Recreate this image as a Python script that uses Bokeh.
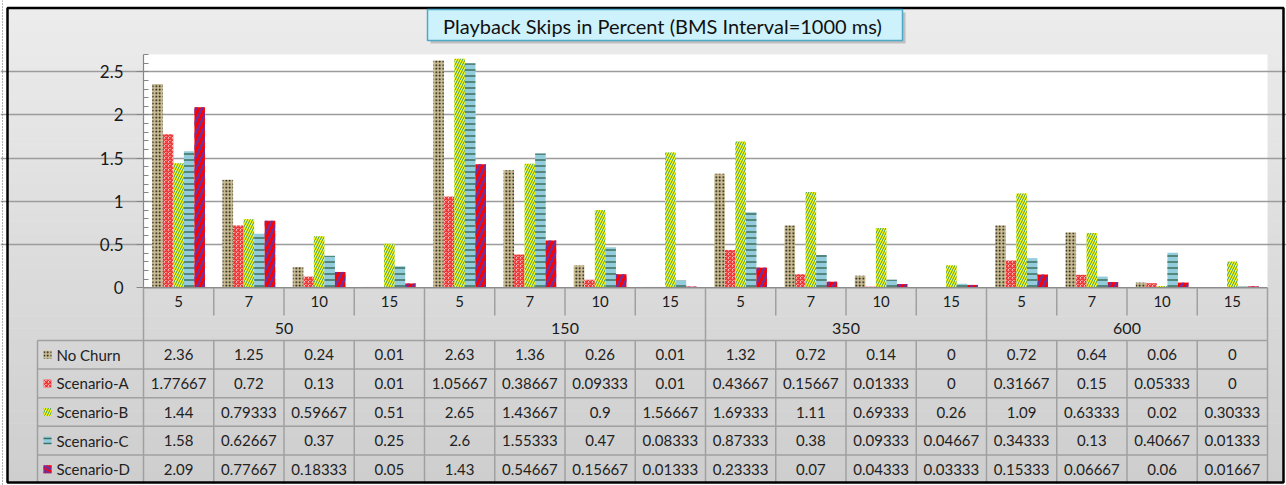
from bokeh.plotting import figure
from bokeh.models import Range1d, LinearAxis, FixedTicker, Grid, NumeralTickFormatter
from bokeh.core.properties import value
from bokeh.embed import file_html
from bokeh.resources import INLINE

# ---------------- data ----------------
title_text = "Playback Skips in Percent  (BMS Interval=1000 ms)"
groups = ["50", "150", "350", "600"]
subcats = ["5", "7", "10", "15"]
series = ["No Churn", "Scenario-A", "Scenario-B", "Scenario-C", "Scenario-D"]
no_churn = [2.36, 1.25, 0.24, 0.01, 2.63, 1.36, 0.26, 0.01, 1.32, 0.72, 0.14, 0, 0.72, 0.64, 0.06, 0]
scenario_a = [1.77667, 0.72, 0.13, 0.01, 1.05667, 0.38667, 0.09333, 0.01, 0.43667, 0.15667, 0.01333, 0,
              0.31667, 0.15, 0.05333, 0]
scenario_b = [1.44, 0.79333, 0.59667, 0.51, 2.65, 1.43667, 0.9, 1.56667, 1.69333, 1.11, 0.69333, 0.26,
              1.09, 0.63333, 0.02, 0.30333]
scenario_c = [1.58, 0.62667, 0.37, 0.25, 2.6, 1.55333, 0.47, 0.08333, 0.87333, 0.38, 0.09333, 0.04667,
              0.34333, 0.13, 0.40667, 0.01333]
scenario_d = [2.09, 0.77667, 0.18333, 0.05, 1.43, 0.54667, 0.15667, 0.01333, 0.23333, 0.07, 0.04333, 0.03333,
              0.15333, 0.06667, 0.06, 0.01667]
y_ticks = [0, 0.5, 1, 1.5, 2, 2.5]
y_max = 2.7

values = [no_churn, scenario_a, scenario_b, scenario_c, scenario_d]

# ---------------- styles ----------------
styles = [
    dict(fill_color="#c9bc92", hatch_pattern="dot", hatch_color="black", hatch_scale=3.5, hatch_weight=1.5),
    dict(fill_color="white", hatch_pattern="criss_cross", hatch_color="#ee2a2a", hatch_scale=4, hatch_weight=1.2),
    dict(fill_color="#ffff00", hatch_pattern="right_diagonal_line", hatch_color="#3a8f8a", hatch_scale=5,
         hatch_weight=1),
    dict(fill_color="#93cddd", hatch_pattern="horizontal_line", hatch_color="#3e6f5c", hatch_scale=6,
         hatch_weight=1.5),
    dict(fill_color="#ff0000", hatch_pattern="right_diagonal_line", hatch_color="#7030a0", hatch_scale=12,
         hatch_weight=2.5),
]

FONT_NAME = "Lato"
FONT = value(FONT_NAME)
W, H = 1286, 485
PL, PR, PT, PB = 143.0, 1267.0, 54.0, 287.3
NCAT = len(groups) * len(subcats)
SX = (PR - PL) / NCAT
SY = (PB - PT) / y_max


def X(px):
    return (px - PL) / SX


def Y(py):
    return (PB - py) / SY


p = figure(width=W, height=H, x_range=Range1d(X(0), X(W)), y_range=Range1d(Y(H), Y(0)),
           output_backend="svg", toolbar_location=None, min_border=0,
           x_axis_location=None, y_axis_location=None, title=None,
           outline_line_color=None, background_fill_color="white", border_fill_color="white")
p.grid.visible = False

# background gradient
NB = 40
top_px, bot_px = 7.0, 482.0
for k in range(NB):
    t = k / (NB - 1)
    c = int(round(236 - 30 * t))
    y0 = top_px + (bot_px - top_px) * k / NB
    y1 = top_px + (bot_px - top_px) * (k + 1) / NB
    p.quad(left=X(7), right=X(1283), top=Y(y0), bottom=Y(y1 + 0.5),
           fill_color=f"#{c:02x}{c:02x}{c:02x}", line_color=None, level="image")

# white plot area
p.quad(left=0, right=NCAT, bottom=0, top=y_max, fill_color="white", line_color=None, level="image")

# grid
p.add_layout(Grid(dimension=1, ticker=FixedTicker(ticks=y_ticks[1:]), bounds=(0, NCAT),
                  grid_line_color="#9c9c9c", grid_line_width=1.5))

# bars
n_s = len(series)
bw = 0.15
for j, (vals, st) in enumerate(zip(values, styles)):
    xs = [i + 0.5 + (j - (n_s - 1) / 2) * bw for i in range(NCAT)]
    p.vbar(x=xs, top=vals, bottom=0, width=bw, line_color=None, **st)

# y axis
ax = LinearAxis(fixed_location=0, bounds=(0, y_max),
                ticker=FixedTicker(ticks=y_ticks, minor_ticks=[round(0.1 * k, 1) for k in range(28)]),
                formatter=NumeralTickFormatter(format="0.[0]"),
                axis_line_color="#868686", axis_line_width=1.2,
                major_tick_line_color="#868686", major_tick_out=7, major_tick_in=0,
                minor_tick_line_color="#868686", minor_tick_out=0, minor_tick_in=5,
                major_label_text_font=FONT_NAME, major_label_text_font_size="17px",
                major_label_text_color="#1a1a1a", major_label_standoff=13)
p.add_layout(ax, "left")

LC = "#a0a0a0"
LW = 1.5
# category axis line
p.segment(x0=[0], y0=[0], x1=[NCAT], y1=[0], line_color="#8c8c8c", line_width=LW)

# category separators
ng = len(subcats)
sx0, sy0, sx1, sy1 = [], [], [], []
for i in range(NCAT + 1):
    if i % ng == 0:
        sx0.append(i); sy0.append(0); sx1.append(i); sy1.append(Y(340))
    else:
        sx0.append(i); sy0.append(0); sx1.append(i); sy1.append(Y(315))
    sx0.append(i); sy0.append(Y(340)); sx1.append(i); sy1.append(Y(483))
sx0.append(X(37)); sy0.append(Y(340)); sx1.append(X(37)); sy1.append(Y(483))
RH = (483 - 340) / len(series)
for r in range(len(series)):
    yy = Y(340 + r * RH)
    sx0.append(X(37)); sy0.append(yy); sx1.append(NCAT); sy1.append(yy)
p.segment(x0=sx0, y0=sy0, x1=sx1, y1=sy1, line_color=LC, line_width=LW)

# category labels
p.text(x=[i + 0.5 for i in range(NCAT)], y=[Y(301)] * NCAT, text=[subcats[i % ng] for i in range(NCAT)],
       text_font=FONT, text_font_size="15px", text_align="center", text_baseline="middle", text_color="#1a1a1a")
p.text(x=[g * ng + ng / 2 for g in range(len(groups))], y=[Y(328)] * len(groups), text=groups,
       text_font=FONT, text_font_size="16px", text_align="center", text_baseline="middle", text_color="#1a1a1a")


def fmt(v):
    return f"{v:g}"


# table values
tx, ty, tt = [], [], []
for r, vals in enumerate(values):
    for c, v in enumerate(vals):
        tx.append(c + 0.5)
        ty.append(Y(340 + RH * (r + 0.5)))
        tt.append(fmt(v))
p.text(x=tx, y=ty, text=tt, text_font=FONT, text_font_size="15px", text_align="center",
       text_baseline="middle", text_color="#222222")

# row headers with swatches
for r, (name, st) in enumerate(zip(series, styles)):
    cy = Y(340 + RH * (r + 0.5))
    sw = dict(st)
    sw["hatch_scale"] = min(st["hatch_scale"], 5)
    sw["hatch_weight"] = min(st["hatch_weight"], 1.5)
    p.rect(x=[X(47)], y=[cy], width=8 / SX, height=8 / SY, line_color=None, **sw)
    p.text(x=[X(56)], y=[cy], text=[name], text_font=FONT, text_font_size="15px", text_align="left",
           text_baseline="middle", text_color="#222222")

# outer border
p.quad(left=X(7), right=X(1283), top=Y(7.5), bottom=Y(482), fill_color=None, line_color="black", line_width=2.5)
p.segment(x0=[X(2)], y0=[Y(0)], x1=[X(2)], y1=[Y(H)], line_color="#666666", line_width=1, line_dash="1 2")

# title box
p.quad(left=X(430), right=X(905), top=Y(12), bottom=Y(43), fill_color="#8a8a8a", fill_alpha=0.45, line_color=None)
p.quad(left=X(427), right=X(902), top=Y(9), bottom=Y(40), fill_color="#cdf2fb", line_color="#4fa8c8",
       line_width=1.5)
p.text(x=[X(664.5)], y=[Y(25)], text=[title_text], text_font=FONT, text_font_size="20px",
       text_align="center", text_baseline="middle", text_color="#111111")

open("out.html", "w").write(file_html(p, INLINE))
